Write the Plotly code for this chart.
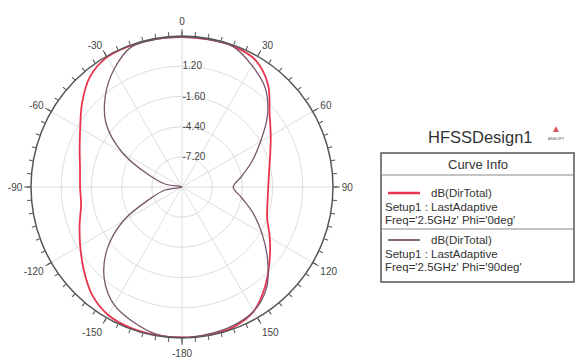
import plotly.graph_objects as go

# ---- data (dB vs theta) ----
theta_deg = [-180, -170, -160, -150, -140, -130, -120, -110, -100, -90, -80, -70, -60, -50, -40, -30, -20, -10,
             0, 10, 20, 30, 40, 50, 60, 70, 80, 90, 100, 110, 120, 130, 140, 150, 160, 170, 180]

phi0_db = [3.95, 3.95, 3.9, 3.7, 3.0, 1.9, 0.9, 0.1, -0.5, -0.55, -0.4, 0.1, 0.9, 2.1, 3.3, 3.9, 3.95, 3.95,
           3.9, 3.9, 3.9, 3.6, 2.4, 0.6, -0.5, -1.3, -1.8, -2.0, -1.95, -1.6, -0.6, 0.6, 2.0, 3.3, 3.85, 3.95, 3.95]

phi90_db = [3.95, 3.85, 3.3, 2.6, 1.2, -0.9, -3.7, -6.9, -8.4, -10.0, -8.4, -6.7, -3.6, -0.8, 1.05, 2.6, 3.8, 3.9,
            3.9, 3.9, 3.85, 3.0, 2.0, 0.35, -1.6, -3.1, -4.4, -5.25, -4.4, -3.0, -1.45, 0.35, 2.2, 3.3, 3.7, 3.85, 3.95]

radial_ticks = [-7.2, -4.4, -1.6, 1.2]
radial_labels = ["-7.20", "-4.40", "-1.60", "1.20"]
angle_ticks = [0, 30, 60, 90, 120, 150, 180, 210, 240, 270, 300, 330]
angle_labels = ["0", "30", "60", "90", "120", "150", "-180", "-150", "-120", "-90", "-60", "-30"]

series_names = ["dB(DirTotal)\nSetup1 : LastAdaptive\nFreq='2.5GHz' Phi='0deg'",
                "dB(DirTotal)\nSetup1 : LastAdaptive\nFreq='2.5GHz' Phi='90deg'"]
colors = ["#e8344e", "#76566b"]

W, H = 585, 363
OFF = 8  # page body margin: the plot is drawn 8px right/down inside the window
FONT = "Liberation Sans, Arial, sans-serif"


def px(x):
    return (x - OFF) / W


def py(y):
    return 1 - (y - OFF) / H


fig = go.Figure()
fig.add_trace(go.Scatterpolar(r=phi0_db, theta=theta_deg, mode="lines",
                              line=dict(color=colors[0], width=1.8, shape="spline", smoothing=1),
                              subplot="polar", name=series_names[0], showlegend=False))
fig.add_trace(go.Scatterpolar(r=phi90_db, theta=theta_deg, mode="lines",
                              line=dict(color=colors[1], width=1.3, shape="spline", smoothing=1),
                              subplot="polar", name=series_names[1], showlegend=False))
# invisible trace so the minor-tick overlay subplot is rendered
fig.add_trace(go.Scatterpolar(r=[-10], theta=[0], mode="markers", marker=dict(opacity=0),
                              subplot="polar2", showlegend=False, hoverinfo="skip"))

cx, cy, R = 182, 187, 151
dom_x = [px(cx - R), px(cx + R)]
dom_y = [py(cy + R), py(cy - R)]

fig.update_layout(
    width=W, height=H,
    margin=dict(l=0, r=0, t=0, b=0),
    paper_bgcolor="white",
    showlegend=False,
    polar=dict(
        domain=dict(x=dom_x, y=dom_y),
        bgcolor="white",
        angularaxis=dict(
            rotation=90, direction="clockwise",
            tickmode="array", tickvals=angle_ticks, ticktext=angle_labels,
            tickfont=dict(family=FONT, size=10, color="#444"),
            ticks="outside", ticklen=6, tickcolor="#555", tickwidth=1,
            showline=True, linecolor="#555", linewidth=1.5,
            showgrid=True, gridcolor="#dedede", gridwidth=1,
        ),
        radialaxis=dict(
            range=[-10, 4], angle=90, tickangle=90,
            tickmode="array", tickvals=radial_ticks, ticktext=radial_labels,
            tickfont=dict(family=FONT, size=10, color="#444"),
            showline=False, ticks="", side="clockwise",
            showgrid=True, gridcolor="#dedede", gridwidth=1,
        ),
    ),
    polar2=dict(
        domain=dict(x=dom_x, y=dom_y),
        bgcolor="rgba(0,0,0,0)",
        angularaxis=dict(
            rotation=90, direction="clockwise",
            tickmode="linear", tick0=0, dtick=5,
            ticks="outside", ticklen=4, tickcolor="#555", tickwidth=1,
            showticklabels=False, showline=False, showgrid=False,
        ),
        radialaxis=dict(range=[-10, 4], visible=False, showgrid=False),
    ),
)

# ---- custom legend panel (HFSS style) ----
bx0, bx1, by0, by1 = 381, 574, 153, 282
shapes = [
    dict(type="rect", xref="paper", yref="paper", x0=px(bx0), x1=px(bx1), y0=py(by1), y1=py(by0),
         line=dict(color="#555", width=1.5), fillcolor="rgba(0,0,0,0)"),
    dict(type="line", xref="paper", yref="paper", x0=px(bx0), x1=px(bx1), y0=py(175), y1=py(175),
         line=dict(color="#888", width=1)),
    dict(type="line", xref="paper", yref="paper", x0=px(bx0), x1=px(bx1), y0=py(229), y1=py(229),
         line=dict(color="#888", width=1)),
    dict(type="line", xref="paper", yref="paper", x0=px(388), x1=px(420), y0=py(193), y1=py(193),
         line=dict(color=colors[0], width=2.5)),
    dict(type="line", xref="paper", yref="paper", x0=px(388), x1=px(420), y0=py(240), y1=py(240),
         line=dict(color=colors[1], width=1.8)),
]
fig.update_layout(shapes=shapes)


def txt(x, y, s, size=12, color="#333", xanchor="left", align="left"):
    fig.add_annotation(x=px(x), y=py(y), xref="paper", yref="paper", text=s, showarrow=False,
                       xanchor=xanchor, yanchor="middle", align=align,
                       font=dict(family=FONT, size=size, color=color))


txt(480, 137, "HFSSDesign1", size=16.5, xanchor="center")
txt(556, 129, "▲", size=10, color="#d9535a", xanchor="center")
txt(556, 138, "ANSOFT", size=4, color="#555", xanchor="center")
txt(478, 164, "Curve Info", size=13, xanchor="center")
for base_y, name in zip([193, 240], series_names):
    l1, l2, l3 = name.split("\n")
    txt(429, base_y, l1, size=11.5)
    txt(383, base_y + 13.5, l2, size=11.5)
    txt(383, base_y + 27, l3, size=11.5)

fig.write_html("out.html")
